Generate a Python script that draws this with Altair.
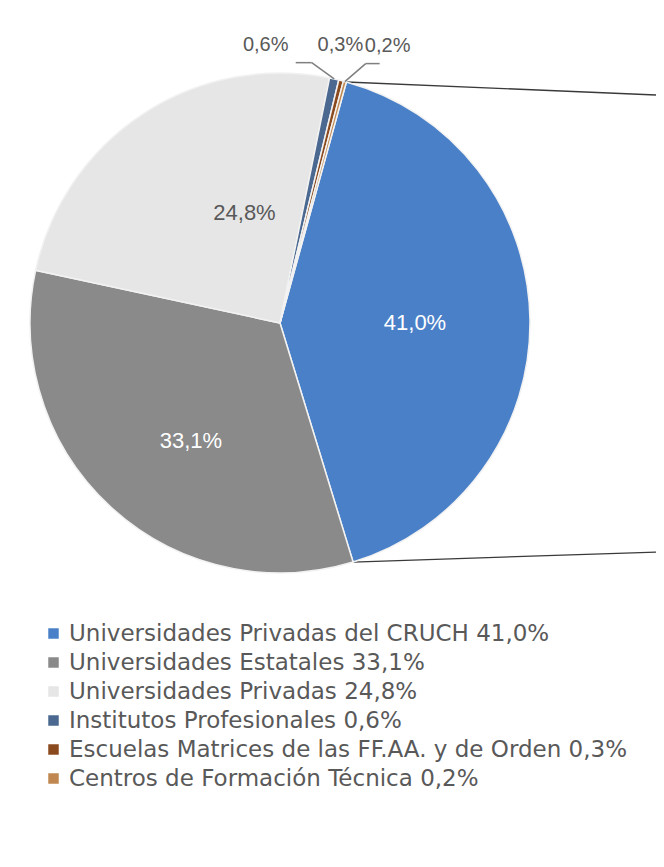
import math
import altair as alt
import pandas as pd

# ---- data ----
categories = [
    "Universidades Privadas del CRUCH",
    "Universidades Estatales",
    "Universidades Privadas",
    "Institutos Profesionales",
    "Escuelas Matrices de las FF.AA. y de Orden",
    "Centros de Formación Técnica",
]
values = [41.0, 33.1, 24.8, 0.6, 0.3, 0.2]
colors = ["#4a80c8", "#8a8a8a", "#e6e6e6", "#4a6890", "#8b4a1d", "#c08850"]

# ---- layout ----
W, H = 648, 851
CX, CY, R = 272, 315, 250
START_DEG = 15.4
start = math.radians(START_DEG)
TOTAL = 100.0


def pct(v):
    return f"{v:.1f}".replace(".", ",") + "%"


df = pd.DataFrame({"cat": categories, "value": values})
df["order"] = range(len(df))
df["c1"] = df["value"].cumsum()
df["c0"] = df["c1"] - df["value"]
df["mid"] = (df["c0"] + df["c1"]) / 2
df["pct"] = [pct(v) for v in values]
df["legend"] = df["cat"] + " " + df["pct"]


def polar(p, r):
    a = start + 2 * math.pi * p / TOTAL
    return CX + r * math.sin(a), CY - r * math.cos(a)


theta_scale = alt.Scale(domain=[0, TOTAL], range=[start, start + 2 * math.pi])
xs = alt.Scale(domain=[0, W], nice=False, zero=False)
ys = alt.Scale(domain=[0, H], nice=False, zero=False, reverse=True)

base = alt.Chart(df).encode(
    theta=alt.Theta("c0:Q", scale=theta_scale),
    theta2="c1:Q",
    x=alt.value(CX),
    y=alt.value(CY),
)

arcs = base.mark_arc(outerRadius=R, stroke="#f2f2f2", strokeWidth=1.5).encode(
    color=alt.Color(
        "legend:N",
        scale=alt.Scale(domain=df["legend"].tolist(), range=colors),
        legend=alt.Legend(
            title=None,
            orient="none",
            legendX=34,
            legendY=614,
            symbolType="square",
            symbolSize=110,
            symbolStrokeWidth=0,
            labelFontSize=23,
            labelFont="DejaVu Sans",
            labelColor="#595959",
            rowPadding=5,
            labelOffset=4,
            labelLimit=700,
        ),
    )
)

# label placement (radius, dx, dy, color, size)
label_spec = {
    "Universidades Privadas del CRUCH": (135, 0, 2, "#ffffff", 22),
    "Universidades Estatales": (148, 11, 9, "#ffffff", 22),
    "Universidades Privadas": (116, 28, -13, "#595959", 22),
    "Institutos Profesionales": (280, -75, -5, "#595959", 20),
    "Escuelas Matrices de las FF.AA. y de Orden": (280, -8, -6, "#595959", 20),
    "Centros de Formación Técnica": (280, 35, -7, "#595959", 20),
}

labels = []
for cat, (r, dx, dy, col, fs) in label_spec.items():
    labels.append(
        alt.Chart(df)
        .transform_filter(alt.datum.cat == cat)
        .mark_text(radius=r, dx=dx, dy=dy, color=col, fontSize=fs,
                   font="Liberation Sans", align="center", baseline="middle")
        .encode(
            theta=alt.Theta("mid:Q", scale=theta_scale),
            x=alt.value(CX),
            y=alt.value(CY),
            text="pct:N",
        )
    )

# connector lines (pie-of-pie) from the edges of the first slice
row0 = df.iloc[0]
tx, ty = polar(row0["c0"], R)
bx, by = polar(row0["c1"], R)
segs = [
    {"x": tx, "y": ty, "x2": W, "y2": ty + 13, "kind": "conn"},
    {"x": bx, "y": by, "x2": W, "y2": by - 10, "kind": "conn"},
]

# leader lines for the two outer small labels
for cat, side in [("Institutos Profesionales", -1), ("Centros de Formación Técnica", 1)]:
    row = df[df["cat"] == cat].iloc[0]
    r, dx, dy, _, _ = label_spec[cat]
    lx, ly = polar(row["mid"], r)
    lx, ly = lx + dx, ly + dy
    ex, ey = polar(row["mid"], R)
    elbow_x = lx + (46 if side < 0 else -22)
    elbow_y = ly + 18
    end_x = elbow_x + (-16 if side < 0 else 14)
    segs.append({"x": ex, "y": ey, "x2": elbow_x, "y2": elbow_y, "kind": "lead"})
    segs.append({"x": elbow_x, "y": elbow_y, "x2": end_x, "y2": elbow_y, "kind": "lead"})

seg_df = pd.DataFrame(segs)

conn = alt.Chart(seg_df).transform_filter(alt.datum.kind == "conn").mark_rule(
    color="#3a3a3a", strokeWidth=1.3
).encode(
    x=alt.X("x:Q", scale=xs, axis=None),
    y=alt.Y("y:Q", scale=ys, axis=None),
    x2="x2:Q",
    y2="y2:Q",
)
lead = alt.Chart(seg_df).transform_filter(alt.datum.kind == "lead").mark_rule(
    color="#7f7f7f", strokeWidth=1.5
).encode(
    x=alt.X("x:Q", scale=xs, axis=None),
    y=alt.Y("y:Q", scale=ys, axis=None),
    x2="x2:Q",
    y2="y2:Q",
)

chart = alt.layer(conn, arcs, lead, *labels).properties(
    width=W, height=H, padding=0, autosize="none", background="white"
).configure_view(stroke=None)

chart.save("out.html", embed_options={"renderer": "svg", "actions": False})
